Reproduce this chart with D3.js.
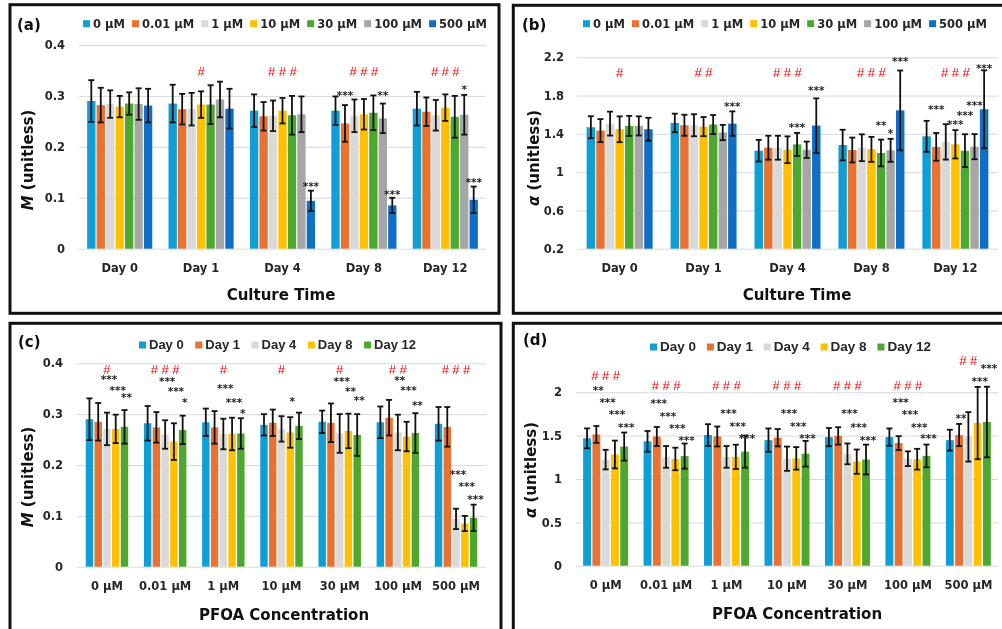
<!DOCTYPE html>
<html>
<head>
<meta charset="utf-8">
<script src="https://cdn.jsdelivr.net/npm/d3@7"></script>
<style>
  body { margin: 0; background: #fff; }
  svg { display: block; will-change: transform; }
</style>
</head>
<body>
<svg id="chart" width="1002" height="629"></svg>
<script>
// ---- data ----
const days = ['Day 0', 'Day 1', 'Day 4', 'Day 8', 'Day 12']
const concs = ['0 μM', '0.01 μM', '1 μM', '10 μM', '30 μM', '100 μM', '500 μM']
const colors = ['#0F9ED5', '#E97132', '#D9D9D9', '#FFC000', '#4EA72E', '#A6A6A6', '#0F6FC6']

// M values, rows = day, cols = concentration
const mMean = [
  [0.290, 0.282, 0.284, 0.279, 0.285, 0.284, 0.281],
  [0.285, 0.274, 0.274, 0.283, 0.283, 0.293, 0.275],
  [0.271, 0.260, 0.261, 0.271, 0.262, 0.264, 0.094],
  [0.271, 0.246, 0.261, 0.264, 0.267, 0.256, 0.085],
  [0.275, 0.269, 0.262, 0.277, 0.259, 0.263, 0.096]
]
const mErr = [
  [0.041, 0.034, 0.027, 0.021, 0.022, 0.031, 0.033],
  [0.037, 0.030, 0.032, 0.026, 0.038, 0.035, 0.039],
  [0.032, 0.028, 0.030, 0.025, 0.038, 0.035, 0.020],
  [0.028, 0.036, 0.032, 0.030, 0.034, 0.029, 0.015],
  [0.033, 0.028, 0.030, 0.026, 0.041, 0.039, 0.026]
]
// alpha values, rows = day, cols = concentration
const aMean = [
  [1.469, 1.434, 1.507, 1.448, 1.483, 1.483, 1.448],
  [1.514, 1.490, 1.490, 1.476, 1.497, 1.414, 1.507],
  [1.224, 1.255, 1.255, 1.234, 1.290, 1.234, 1.486],
  [1.283, 1.231, 1.255, 1.238, 1.200, 1.228, 1.645],
  [1.374, 1.264, 1.316, 1.291, 1.224, 1.266, 1.657]
]
const aErr = [
  [0.115, 0.120, 0.125, 0.135, 0.105, 0.100, 0.120],
  [0.097, 0.110, 0.115, 0.100, 0.100, 0.080, 0.128],
  [0.113, 0.125, 0.125, 0.140, 0.120, 0.085, 0.285],
  [0.160, 0.130, 0.140, 0.130, 0.140, 0.120, 0.417],
  [0.162, 0.145, 0.185, 0.148, 0.172, 0.131, 0.407]
]

const mTicks = [0, 0.1, 0.2, 0.3, 0.4]
const aTicksB = [0.2, 0.6, 1, 1.4, 1.8, 2.2]
const aTicksD = [0, 0.5, 1, 1.5, 2]

// annotations: [group, label, y value]  and  [group, series, label, y value]
const hashA = [[1, '#', 0.347], [2, '###', 0.347], [3, '###', 0.347], [4, '###', 0.347]]
const starsA = [[3, 1, '***', 0.306], [3, 5, '**', 0.306], [4, 5, '*', 0.318],
  [2, 6, '***', 0.127], [3, 6, '***', 0.112], [4, 6, '***', 0.135]]

const hashB = [[0, '#', 2.045], [1, '##', 2.045], [2, '###', 2.045], [3, '###', 2.045], [4, '###', 2.045]]
const starsB = [[1, 6, '***', 1.714], [2, 4, '***', 1.497], [2, 6, '***', 1.88],
  [3, 4, '**', 1.518], [3, 5, '*', 1.425], [3, 6, '***', 2.185],
  [4, 1, '***', 1.683], [4, 3, '***', 1.52], [4, 4, '***', 1.621], [4, 5, '***', 1.725], [4, 6, '***', 2.107]]

const hashC = [[0, '#', 0.388], [1, '###', 0.388], [2, '#', 0.388], [3, '#', 0.388],
  [4, '#', 0.388], [5, '##', 0.388], [6, '###', 0.388]]
const starsC = [[0, 2, '***', 0.3725], [0, 3, '***', 0.351], [0, 4, '**', 0.337],
  [1, 2, '***', 0.369], [1, 3, '***', 0.349], [1, 4, '*', 0.327],
  [2, 2, '***', 0.355], [2, 3, '***', 0.327], [2, 4, '*', 0.306],
  [3, 3, '*', 0.329],
  [4, 2, '***', 0.369], [4, 3, '**', 0.349], [4, 4, '**', 0.331],
  [5, 2, '**', 0.371], [5, 3, '***', 0.351], [5, 4, '**', 0.322],
  [6, 2, '***', 0.186], [6, 3, '***', 0.163], [6, 4, '***', 0.137]]

const hashD = [[0, '###', 2.19], [1, '###', 2.073], [2, '###', 2.073], [3, '###', 2.073],
  [4, '###', 2.073], [5, '###', 2.073], [6, '##', 2.363]]
const starsD = [[0, 1, '**', 2.046], [0, 2, '***', 1.912], [0, 3, '***', 1.767], [0, 4, '***', 1.618],
  [1, 1, '***', 1.90], [1, 2, '***', 1.752], [1, 3, '***', 1.607], [1, 4, '***', 1.473],
  [2, 2, '***', 1.786], [2, 3, '***', 1.637], [2, 4, '***', 1.492],
  [3, 2, '***', 1.786], [3, 3, '***', 1.637], [3, 4, '***', 1.492],
  [4, 2, '***', 1.779], [4, 3, '***', 1.618], [4, 4, '***', 1.473],
  [5, 1, '***', 1.912], [5, 2, '***', 1.771], [5, 3, '***', 1.626], [5, 4, '***', 1.492],
  [6, 1, '**', 1.721], [6, 3, '***', 2.156], [6, 4, '***', 2.305]]

// ---- drawing ----
const svg = d3.select('#chart')
const tickFont = 'bold 11.5px "DejaVu Sans", sans-serif'
const titleFont = 'bold 15px "DejaVu Sans", sans-serif'

const drawPanel = p => {
  const g = svg.append('g')

  g.append('rect')
    .attr('x', p.box[0]).attr('y', p.box[1])
    .attr('width', p.box[2] - p.box[0]).attr('height', p.box[3] - p.box[1])
    .attr('fill', 'none').attr('stroke', '#111').attr('stroke-width', 3)

  g.append('text')
    .attr('x', p.labelXY[0]).attr('y', p.labelXY[1])
    .text(p.label)
    .style('font', 'bold 15px "DejaVu Sans", sans-serif')
    .attr('fill', '#111')

  let x0 = d3.scaleBand().domain(p.groups).range(p.xRange)
             .paddingInner(p.padIn).paddingOuter(p.padOut)
  let x1 = d3.scaleBand().domain(p.series).range([0, x0.bandwidth()]).paddingInner(p.barPad)
  let y = d3.scaleLinear().domain(p.yDomain).range(p.yRange)

  // gridlines + y axis
  let ya = g.append('g')
    .attr('transform', `translate(${p.xRange[0]},0)`)
    .call(d3.axisLeft(y).tickValues(p.ticks).tickFormat(d3.format('~g'))
      .tickSize(-(p.xRange[1] - p.xRange[0])).tickPadding(p.tickPad))
  ya.select('.domain').remove()
  ya.selectAll('line').attr('stroke', '#d9d9d9').attr('stroke-width', 1)
  ya.selectAll('text').style('font', tickFont).attr('fill', '#262626')

  // x axis labels
  let xa = g.append('g')
    .attr('transform', `translate(0,${y(p.yDomain[0])})`)
    .call(d3.axisBottom(x0).tickSize(0).tickPadding(15))
  xa.select('.domain').remove()
  xa.selectAll('text').style('font', tickFont).attr('fill', '#262626')

  // bars
  let groups = g.selectAll('.grp')
    .data(p.groups)
    .join('g')
    .attr('class', 'grp')
    .attr('transform', d => `translate(${x0(d)},0)`)

  let cells = groups.selectAll('.cell')
    .data((_, gi) => p.series.map((s, si) => ({ s, si, v: p.mean(gi, si), e: p.err(gi, si) })))
    .join('g')
    .attr('class', 'cell')

  cells.append('rect')
    .attr('x', d => x1(d.s))
    .attr('width', x1.bandwidth())
    .attr('y', d => y(d.v))
    .attr('height', d => y(p.yDomain[0]) - y(d.v))
    .style('fill', d => p.colors[d.si])

  // error bars
  const cap = 3
  cells.append('line')
    .attr('x1', d => x1(d.s) + x1.bandwidth() / 2)
    .attr('x2', d => x1(d.s) + x1.bandwidth() / 2)
    .attr('y1', d => y(d.v - d.e))
    .attr('y2', d => y(d.v + d.e))
  cells.append('line')
    .attr('x1', d => x1(d.s) + x1.bandwidth() / 2 - cap)
    .attr('x2', d => x1(d.s) + x1.bandwidth() / 2 + cap)
    .attr('y1', d => y(d.v + d.e))
    .attr('y2', d => y(d.v + d.e))
  cells.append('line')
    .attr('x1', d => x1(d.s) + x1.bandwidth() / 2 - cap)
    .attr('x2', d => x1(d.s) + x1.bandwidth() / 2 + cap)
    .attr('y1', d => y(d.v - d.e))
    .attr('y2', d => y(d.v - d.e))
  cells.selectAll('line').attr('stroke', '#111').attr('stroke-width', 1.8)

  // significance marks
  g.selectAll('.hash')
    .data(p.hashes)
    .join('text')
    .attr('class', 'hash')
    .attr('x', d => x0(p.groups[d[0]]) + x0.bandwidth() / 2 + 1.7)
    .attr('y', d => y(d[2]) + 4.5)
    .attr('text-anchor', 'middle')
    .text(d => d[1])
    .style('font', '13px "Liberation Sans", sans-serif')
    .style('letter-spacing', '3.5px')
    .attr('fill', '#FF0000')

  g.selectAll('.star')
    .data(p.stars)
    .join('text')
    .attr('class', 'star')
    .attr('x', d => x0(p.groups[d[0]]) + x1(p.series[d[1]]) + x1.bandwidth() / 2 + p.starDx)
    .attr('y', d => y(d[3]) + 6)
    .attr('text-anchor', 'middle')
    .text(d => d[2])
    .style('font', 'bold 10.5px "DejaVu Sans", sans-serif')
    .attr('fill', '#262626')

  // axis titles
  let yt = g.append('text')
    .attr('transform', `translate(${p.yTitleXY[0]},${p.yTitleXY[1]}) rotate(-90)`)
    .attr('text-anchor', 'middle')
    .style('font', titleFont)
    .attr('fill', '#111')
  yt.append('tspan').style('font-style', 'italic').text(p.yTitle[0])
  yt.append('tspan').text(p.yTitle[1])

  g.append('text')
    .attr('x', p.xTitleXY[0]).attr('y', p.xTitleXY[1])
    .attr('text-anchor', 'middle')
    .text(p.xTitle)
    .style('font', titleFont)
    .attr('fill', '#111')

  // legend, items spread over the given span
  let lg = g.append('g')
  let items = lg.selectAll('g')
    .data(p.series)
    .join('g')
  items.append('rect')
    .attr('width', 7).attr('height', 7)
    .attr('y', p.legendY - 3.5)
    .style('fill', (_, i) => p.colors[i])
  items.append('text')
    .attr('y', p.legendY + 4.3)
    .text(d => d)
    .style('font', p.legendFont)
    .attr('fill', '#262626')
  let widths = items.select('text').nodes().map(n => n.getComputedTextLength())
  let used = d3.sum(widths) + p.series.length * 10
  let gap = (p.legendX[1] - p.legendX[0] - used) / (p.series.length - 1)
  let cx = p.legendX[0]
  items.each(function (_, i) {
    d3.select(this).select('rect').attr('x', cx)
    d3.select(this).select('text').attr('x', cx + 10)
    cx += 10 + widths[i] + gap
  })
}

const panels = [
  {
    box: [10, 4.7, 499, 313.3], label: '(a)', labelXY: [17, 29.5],
    groups: days, series: concs, colors: colors,
    mean: (g, s) => mMean[g][s], err: (g, s) => mErr[g][s],
    xRange: [79, 486], padIn: 0.2, padOut: 0.1, barPad: 0.12,
    yDomain: [0, 0.4], yRange: [248.7, 45], ticks: mTicks, tickPad: 14,
    yTitle: ['M', ' (unitless)'], yTitleXY: [33, 160],
    xTitle: 'Culture Time', xTitleXY: [281, 300],
    legendX: [83, 487], legendY: 23.7, legendFont: 'bold 11.5px "DejaVu Sans", sans-serif',
    hashes: hashA, stars: starsA, starDx: 0
  },
  {
    box: [513.3, 5.3, 1004, 313.3], label: '(b)', labelXY: [522, 29.5],
    groups: days, series: concs, colors: colors,
    mean: (g, s) => aMean[g][s], err: (g, s) => aErr[g][s],
    xRange: [577, 998], padIn: 0.214, padOut: 0.115, barPad: 0.12,
    yDomain: [0.2, 2.2], yRange: [248.7, 57.3], ticks: aTicksB, tickPad: 13,
    yTitle: ['α', ' (unitless)'], yTitleXY: [539, 158],
    xTitle: 'Culture Time', xTitleXY: [797, 300],
    legendX: [583, 987], legendY: 23.7, legendFont: 'bold 11.5px "DejaVu Sans", sans-serif',
    hashes: hashB, stars: starsB, starDx: 0
  },
  {
    box: [10, 323.3, 501, 640], label: '(c)', labelXY: [18, 347],
    groups: concs, series: days, colors: colors,
    mean: (g, s) => mMean[s][g], err: (g, s) => mErr[s][g],
    xRange: [77, 486], padIn: 0.27, padOut: 0.15, barPad: 0.15,
    yDomain: [0, 0.4], yRange: [566.7, 363.3], ticks: mTicks, tickPad: 14,
    yTitle: ['M', ' (unitless)'], yTitleXY: [33, 477],
    xTitle: 'PFOA Concentration', xTitleXY: [284, 620],
    legendX: [139, 416], legendY: 345, legendFont: 'bold 13px "Liberation Sans", sans-serif',
    hashes: hashC, stars: starsC, starDx: 2
  },
  {
    box: [513.3, 323.3, 1004, 640], label: '(d)', labelXY: [523, 344.5],
    groups: concs, series: days, colors: colors,
    mean: (g, s) => aMean[s][g], err: (g, s) => aErr[s][g],
    xRange: [576, 998], padIn: 0.256, padOut: 0.118, barPad: 0.15,
    yDomain: [0, 2.4], yRange: [565.7, 357.6], ticks: aTicksD, tickPad: 14,
    yTitle: ['α', ' (unitless)'], yTitleXY: [536, 470],
    xTitle: 'PFOA Concentration', xTitleXY: [797, 619],
    legendX: [650, 931], legendY: 347, legendFont: 'bold 13.5px "Liberation Sans", sans-serif',
    hashes: hashD, stars: starsD, starDx: 2
  }
]

panels.forEach(drawPanel)
</script>
</body>
</html>
